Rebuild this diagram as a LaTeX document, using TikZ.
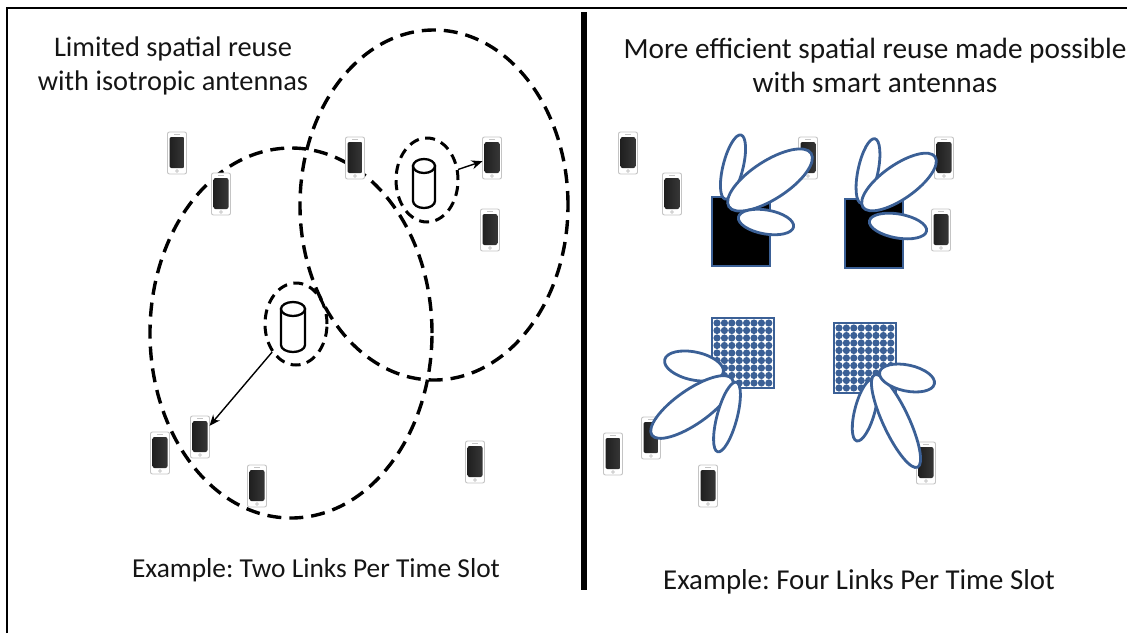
\documentclass[tikz,border=0pt]{standalone}
\usepackage{fontspec}
\setmainfont{Carlito}
\usetikzlibrary{shapes.geometric,arrows.meta}
\definecolor{lobeblue}{HTML}{3B6096}
\definecolor{phonegray}{HTML}{C4C4C4}
\definecolor{screendark}{HTML}{1C1C1C}
\definecolor{screenlight}{HTML}{3A3A3A}
\definecolor{textgray}{HTML}{151515}
\frenchspacing

\begin{document}
\begin{tikzpicture}[x=1pt,y=-1pt,
  phone/.style={draw=phonegray, line width=0.9pt, fill=white, rounded corners=2pt,
    minimum width=19pt, minimum height=42pt, inner sep=0pt, outer sep=0pt,
    path picture={
      \shade[left color=screendark, right color=screenlight]
        ([xshift=2pt,yshift=6pt]path picture bounding box.south west)
        rectangle ([xshift=-2pt,yshift=-5pt]path picture bounding box.north east);
      \draw[phonegray, line width=0.8pt]
        ([xshift=-3pt,yshift=-2.5pt]path picture bounding box.north)
        -- ([xshift=3pt,yshift=-2.5pt]path picture bounding box.north);
      \draw[phonegray, line width=0.6pt]
        ([yshift=3pt]path picture bounding box.south) circle (1.4pt);
    }},
  cell/.style={ellipse, draw, line width=3.4pt, dash pattern=on 14pt off 8pt,
    inner sep=0pt, outer sep=0pt},
  halo/.style={ellipse, draw, line width=3pt, dash pattern=on 10pt off 6.5pt,
    inner sep=0pt, outer sep=1pt},
  can/.style={line width=2.3pt, fill=white},
  lobe/.style={draw=lobeblue, line width=2.8pt, fill=white},
  block/.style={draw=lobeblue, line width=2.6pt, fill=black},
  caption/.style={text=textgray, align=center, inner sep=0pt, anchor=base},
  link/.style={line width=1.4pt, -{Stealth[length=11pt, width=9pt]}}
]
\useasboundingbox (0,0) rectangle (1127,633);

% frame and divider
\draw[line width=2pt] (7,633) -- (7,8) -- (1127,8);
\draw[line width=6pt] (584,12) -- (584,590);

% headings
\node[caption, font=\fontsize{28.4}{35}\selectfont] (tl1) at (173,56) {Limited spatial reuse};
\node[caption, font=\fontsize{28.4}{35}\selectfont] (tl2) at (173,90) {with isotropic antennas};
\node[caption, font=\fontsize{29.3}{35}\selectfont] (tr1) at (875,58) {More efficient spatial reuse made possible};
\node[caption, font=\fontsize{29.3}{35}\selectfont] (tr2) at (875,92) {with smart antennas};
\node[caption, font=\fontsize{27.4}{35}\selectfont] (bl) at (316,577) {Example: Two Links Per Time Slot};
\node[caption, font=\fontsize{28.8}{35}\selectfont] (br) at (859,589) {Example: Four Links Per Time Slot};

% ---------------- isotropic side ----------------
\node[cell, minimum width=282pt, minimum height=370pt] (cellA) at (291,333) {};
\node[cell, minimum width=268pt, minimum height=350pt] (cellB) at (434,205) {};

% phones
\node[phone] (p1) at (177,153) {};
\node[phone] (p2) at (221,194) {};
\node[phone] (p3) at (355,158) {};
\node[phone] (p4) at (492,158) {};
\node[phone] (p5) at (490,230) {};
\node[phone] (p6) at (200,437) {};
\node[phone] (p7) at (160,453) {};
\node[phone] (p8) at (257,486) {};
\node[phone] (p9) at (475,462) {};

% access points (cylinders) and their dashed halos
\node[halo, minimum width=62pt, minimum height=84pt] (apB) at (427,180) {};
\node[halo, minimum width=62pt, minimum height=82pt] (apA) at (296,324) {};
\draw[can] (413,166) -- (413,201)
  arc[start angle=180, end angle=360, x radius=11, y radius=-7] -- (435,166) -- cycle;
\draw[can] (424,166) ellipse [x radius=11, y radius=7];
\draw[can] (281,309) -- (281,345)
  arc[start angle=180, end angle=360, x radius=12, y radius=-7] -- (305,309) -- cycle;
\draw[can] (293,309) ellipse [x radius=12, y radius=7];

% links
\draw[link] (apB) -- (p4);
\draw[link] (apA) -- (p6);

% ---------------- smart antenna side ----------------
\node[phone] (q1) at (628,153) {};
\node[phone] (q2) at (672,194) {};
\node[phone] (q3) at (808,158) {};
\node[phone] (q4) at (944,158) {};
\node[phone] (q5) at (941,230) {};
\node[phone] (q6) at (651,438) {};
\node[phone] (q7) at (613,454) {};
\node[phone] (q8) at (708,486) {};
\node[phone] (q9) at (926,463) {};

% sector antennas with three beams each
\draw[block] (712,197) rectangle (770,266);
\draw[lobe, rotate around={76:(733,167)}] (733,167) ellipse [x radius=33, y radius=10];
\draw[lobe, rotate around={33:(770,180)}] (770,180) ellipse [x radius=49, y radius=19];
\draw[lobe, rotate around={-10:(766,222)}] (766,222) ellipse [x radius=28, y radius=12];

\draw[block] (845,199) rectangle (903,268);
\draw[lobe, rotate around={78:(868,171)}] (868,171) ellipse [x radius=33, y radius=10];
\draw[lobe, rotate around={35:(899,182)}] (899,182) ellipse [x radius=44, y radius=17];
\draw[lobe, rotate around={-10:(898,226)}] (898,226) ellipse [x radius=29, y radius=12];

% planar arrays with three beams each
\foreach \ox/\oy in {712/318, 834/323}{
  \draw[draw=lobeblue, line width=2.4pt, fill=white] (\ox,\oy) rectangle ++(62,70);
  \foreach \i in {0,...,7}{
    \foreach \j in {0,...,8}{
      \fill[lobeblue] (\ox+5+\i*7.4,\oy+5+\j*7.5) circle (3.6pt);
    }
  }
}
\draw[lobe, rotate around={-12:(694,366)}] (694,366) ellipse [x radius=30, y radius=14];
\draw[lobe, rotate around={35:(692,407)}] (692,407) ellipse [x radius=49, y radius=17];
\draw[lobe, rotate around={75:(727,417)}] (727,417) ellipse [x radius=36, y radius=10];

\draw[lobe, rotate around={75:(865,410)}] (865,410) ellipse [x radius=32, y radius=10];
\draw[lobe, rotate around={-65:(896,421)}] (896,421) ellipse [x radius=51, y radius=13];
\draw[lobe, rotate around={-12:(907,378)}] (907,378) ellipse [x radius=28, y radius=13];
\end{tikzpicture}
\end{document}
